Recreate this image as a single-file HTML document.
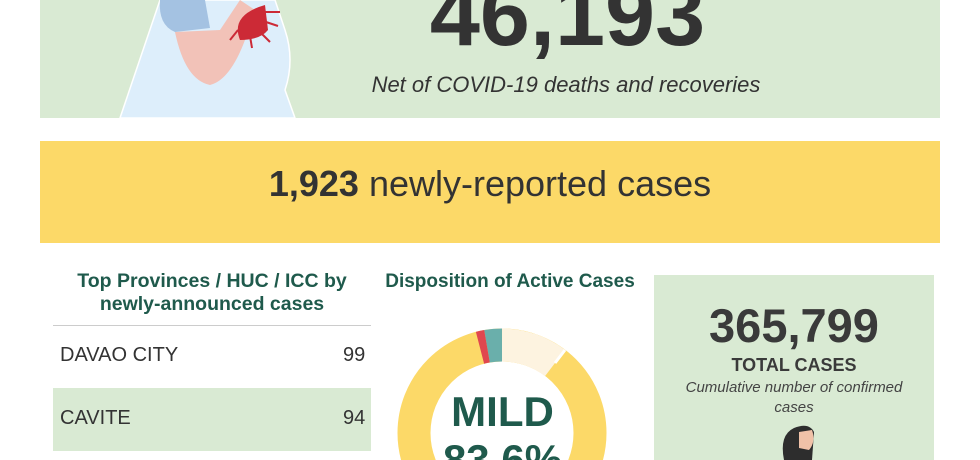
<!DOCTYPE html>
<html><head><style>
*{margin:0;padding:0;box-sizing:border-box}
html,body{width:980px;height:460px;overflow:hidden}
body{background:#fff;font-family:"Liberation Sans",sans-serif;position:relative}
.a{position:absolute}
.c{text-align:center}
</style></head><body>
<div class="a" style="left:0;top:0;width:980px;height:460px;overflow:hidden">
<div class="a" style="left:40px;top:0;width:900px;height:118px;background:#d9ead3"></div>
<svg class="a" style="left:40px;top:0" width="320" height="118">
<path d="M120 0 L80 118 L255 118 L245 90 Q255 60 245 30 L235 0 Z" fill="#ddeefb" stroke="#fff" stroke-width="1.5"/>
<path d="M120 0 Q118 25 135 32 L170 28 L165 0 Z" fill="#a4c2e2"/>
<path d="M135 32 Q145 80 170 85 Q190 80 205 40 L215 10 L200 0 L180 30 Z" fill="#f2c2b8"/>
<path d="M225 5 Q190 15 200 40 Q220 40 228 30 Z" fill="#cc2a36"/>
<g stroke="#cc2a36" stroke-width="2"><line x1="225" y1="12" x2="240" y2="12"/><line x1="226" y1="22" x2="238" y2="26"/><line x1="220" y1="32" x2="230" y2="42"/><line x1="210" y1="36" x2="212" y2="48"/><line x1="198" y1="30" x2="190" y2="40"/></g>
</svg>
<div class="a c" style="left:330px;top:-30px;width:475px;font-size:90px;font-weight:bold;color:#333;line-height:90px">46,193</div>
<div class="a c" style="left:316px;top:72px;width:500px;font-size:22px;font-style:italic;color:#333">Net of COVID-19 deaths and recoveries</div>
<div class="a c" style="left:40px;top:141px;width:900px;height:102px;background:#fcd968;font-size:36px;color:#333;line-height:86px"><b>1,923</b> newly-reported cases</div>
<div class="a c" style="left:48px;top:270px;width:328px;font-size:19.5px;font-weight:bold;color:#1f5a4c;line-height:23px">Top Provinces / HUC / ICC by newly-announced cases</div>
<div class="a" style="left:53px;top:325px;width:318px;height:1px;background:#ccc"></div>
<div class="a" style="left:60px;top:344px;font-size:20px;color:#333">DAVAO CITY</div>
<div class="a" style="left:343px;top:344px;font-size:20px;color:#333">99</div>
<div class="a" style="left:53px;top:388px;width:318px;height:63px;background:#d9ead3"></div>
<div class="a" style="left:60px;top:407px;font-size:20px;color:#333">CAVITE</div>
<div class="a" style="left:343px;top:407px;font-size:20px;color:#333">94</div>
<div class="a c" style="left:380px;top:271px;width:260px;font-size:19px;font-weight:bold;color:#1f5a4c">Disposition of Active Cases</div>
<svg class="a" style="left:0;top:0" width="980" height="460">
<g fill="none" stroke-width="33">
<circle cx="502" cy="433" r="88" stroke="#fcd968"/>
<path d="M502 345 A88 88 0 0 1 555 363" stroke="#fdf3e0"/>
<path d="M502 345 A88 88 0 0 0 487 346.3" stroke="#6aafab"/>
<path d="M487 346.3 A88 88 0 0 0 480 347.8" stroke="#e0474f"/>
</g>
<line x1="555" y1="363" x2="565" y2="350" stroke="#fff" stroke-width="3"/>
</svg>
<div class="a c" style="left:420px;top:388px;width:165px;font-size:42px;font-weight:bold;color:#1f5a4c;line-height:48px">MILD<br>83.6%</div>
<div class="a" style="left:654px;top:275px;width:280px;height:185px;background:#d9ead3"></div>
<div class="a c" style="left:654px;top:300px;width:280px;font-size:47px;font-weight:bold;color:#3a3a3a;line-height:52px">365,799</div>
<div class="a c" style="left:654px;top:355px;width:280px;font-size:18px;font-weight:bold;color:#3a3a3a">TOTAL CASES</div>
<div class="a c" style="left:674px;top:378px;width:240px;font-size:15px;font-style:italic;color:#444;line-height:20px">Cumulative number of confirmed cases</div>
<svg class="a" style="left:754px;top:420px" width="80" height="40">
<path d="M30 40 Q25 15 40 8 Q55 2 60 12 L58 40 Z" fill="#2d2d2d"/>
<path d="M45 12 L58 10 Q62 22 55 30 L45 28 Z" fill="#f0c2a8"/>
</svg>
</div>
</body></html>
